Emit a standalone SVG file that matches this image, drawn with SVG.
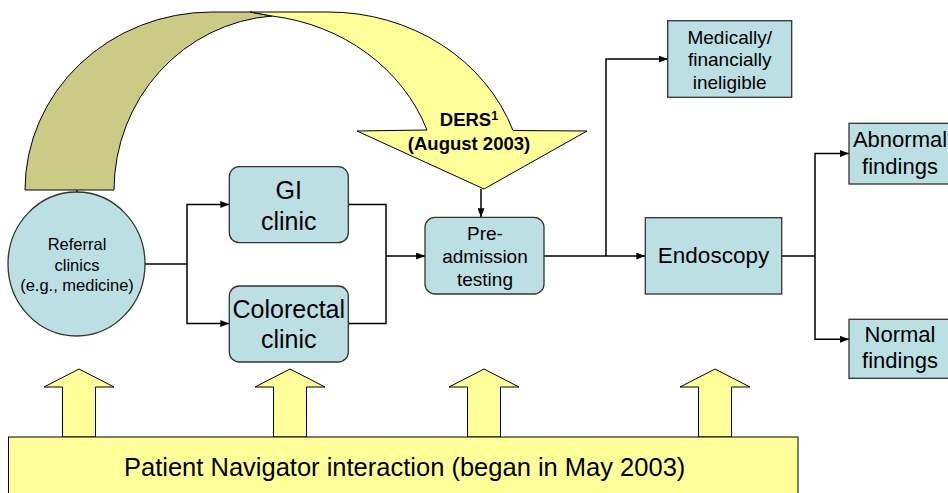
<svg xmlns="http://www.w3.org/2000/svg" width="948" height="493" viewBox="0 0 948 493">
<style>
.box{fill:#BCDFE3;stroke:#333;stroke-width:1.3}
.conn{fill:none;stroke:#000;stroke-width:1.5}
.yel{fill:#FFFF99;stroke:#000;stroke-width:1}
.olive{fill:#CBCB86;stroke:#000;stroke-width:1}
.t{font-family:"Liberation Sans",Arial,sans-serif;fill:#000;text-anchor:middle}
</style>
<defs>
<marker id="ah" viewBox="0 0 9 7" refX="9" refY="3.5" markerWidth="9" markerHeight="7" markerUnits="userSpaceOnUse" orient="auto"><path d="M0,0 L9,3.5 L0,7 Z" fill="#000"/></marker>
</defs>
<rect width="948" height="493" fill="#fff"/>

<g id="ders-arrow">
<path class="olive" d="M25,190 A187,178 0 0 1 212,12 L250,12 L272,16 A171,175 0 0 0 114,190 Z"/>
<path class="yel" d="M250,12 L328,12 A196,178 0 0 1 513,130.5 L587,131 L484,189 L357,131 L427,130 A192,175 0 0 0 272,16 Z"/>
<text class="t" x="469" y="126" font-size="18.5" font-weight="bold">DERS<tspan font-size="12.5" dy="-6">1</tspan></text>
<text class="t" x="469" y="150" font-size="18.5" font-weight="bold">(August 2003)</text>
</g>

<g id="connectors">
<path class="conn" d="M77,190 V192"/>
<path class="conn" d="M145,264 H187"/>
<path class="conn" d="M187,264 V204.5 H229.3" marker-end="url(#ah)"/>
<path class="conn" d="M187,264 V323.5 H229.3" marker-end="url(#ah)"/>
<path class="conn" d="M348.3,204.5 H386 V323.5 H348.3"/>
<path class="conn" d="M386,256 H425" marker-end="url(#ah)"/>
<path class="conn" d="M481,189 V217.3" marker-end="url(#ah)"/>
<path class="conn" d="M544,256 H645.3" marker-end="url(#ah)"/>
<path class="conn" d="M606,256 V59 H667.7" marker-end="url(#ah)"/>
<path class="conn" d="M781.7,256 H815"/>
<path class="conn" d="M815,256 V153.5 H849" marker-end="url(#ah)"/>
<path class="conn" d="M815,256 V339.3 H849" marker-end="url(#ah)"/>
</g>

<g id="referral">
<ellipse class="box" cx="76.5" cy="264" rx="68.5" ry="72"/>
<text class="t" font-size="16.5"><tspan x="77" y="250">Referral</tspan><tspan x="77" y="270.5">clinics</tspan><tspan x="77" y="291">(e.g., medicine)</tspan></text>
</g>

<g id="gi-clinic">
<rect class="box" x="229.3" y="166.7" width="119" height="76" rx="10"/>
<text class="t" font-size="25"><tspan x="288.8" y="199">GI</tspan><tspan x="288.8" y="230">clinic</tspan></text>
</g>

<g id="colorectal-clinic">
<rect class="box" x="229.3" y="286" width="119" height="76" rx="10"/>
<text class="t" font-size="25"><tspan x="288.8" y="318">Colorectal</tspan><tspan x="288.8" y="348">clinic</tspan></text>
</g>

<g id="pre-admission">
<rect class="box" x="425" y="217.3" width="119" height="76.7" rx="10"/>
<text class="t" font-size="19"><tspan x="485" y="239.5">Pre-</tspan><tspan x="485" y="263">admission</tspan><tspan x="485" y="285.5">testing</tspan></text>
</g>

<g id="endoscopy">
<rect class="box" x="645.3" y="217.7" width="136.4" height="76.3"/>
<text class="t" font-size="22.5" x="713.5" y="263">Endoscopy</text>
</g>

<g id="ineligible">
<rect class="box" x="667.7" y="20.7" width="124" height="76.6"/>
<text class="t" font-size="19"><tspan x="729.7" y="43.5">Medically/</tspan><tspan x="729.7" y="66">financially</tspan><tspan x="729.7" y="89">ineligible</tspan></text>
</g>

<g id="abnormal">
<rect class="box" x="849" y="123.3" width="103" height="60.7"/>
<text class="t" font-size="22"><tspan x="900" y="147">Abnormal</tspan><tspan x="900" y="174">findings</tspan></text>
</g>

<g id="normal">
<rect class="box" x="849" y="319.3" width="103" height="59"/>
<text class="t" font-size="22"><tspan x="900" y="342">Normal</tspan><tspan x="900" y="368">findings</tspan></text>
</g>

<g id="navigator">
<polygon class="yel" points="79,369 114,387 95.5,387 95.5,437 62.5,437 62.5,387 44,387"/>
<polygon class="yel" points="290,369 325,387 306.5,387 306.5,437 273.5,437 273.5,387 255,387"/>
<polygon class="yel" points="484,369 519,387 500.5,387 500.5,437 467.5,437 467.5,387 449,387"/>
<polygon class="yel" points="715,369 750,387 731.5,387 731.5,437 698.5,437 698.5,387 680,387"/>
<rect class="yel" x="8.5" y="437" width="789.5" height="62"/>
<text class="t" font-size="25.5" x="124" y="476" style="text-anchor:start">Patient Navigator interaction (began in May 2003)</text>
</g>
</svg>
